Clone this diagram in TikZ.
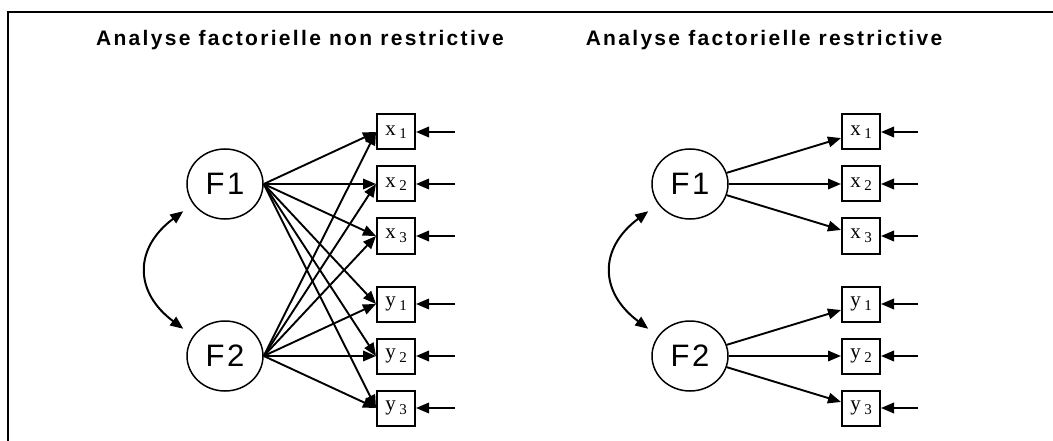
\documentclass[tikz,border=0pt]{standalone}
\usepackage{fontspec}
\setmainfont{Liberation Serif}
\newfontfamily\titlefont[LetterSpace=11]{Liberation Sans}
\newfontfamily\facfont[LetterSpace=8]{Liberation Sans}
\usetikzlibrary{arrows.meta,shapes.geometric}
\newcommand{\varlab}[2]{#1\,\raisebox{-3.5pt}{\fontsize{15}{15}\selectfont #2}}

\begin{document}
\begin{tikzpicture}[x=1pt,y=-1pt,
	tip/.style={-{Triangle[length=13pt,width=10.5pt]}},
	link/.style={tip,line width=1.9pt},
	dbl/.style={{Triangle[length=13pt,width=10.5pt]}-{Triangle[length=13pt,width=10.5pt]},line width=2pt,shorten <=12pt,shorten >=12pt},
	factor/.style={ellipse,draw,line width=1.5pt,minimum width=76pt,minimum height=70pt,inner sep=0pt,font=\facfont\fontsize{31}{31}\selectfont},
	obs/.style={rectangle,draw,line width=2pt,minimum width=38pt,minimum height=35pt,inner sep=0pt,font=\fontsize{21}{21}\selectfont},
	title/.style={anchor=base,font=\titlefont\bfseries\fontsize{21}{21}\selectfont}]
	\useasboundingbox (0,0) rectangle (1053,441);
	\draw[line width=2.2pt] (8,441) -- (8,12) -- (1053,12);
	\node[title] (t1) at (300,46) {Analyse factorielle non restrictive};
	\node[title] (t2) at (764,46) {Analyse factorielle restrictive};
	% non restrictive: every factor loads on every variable
	\node[factor] (a1) at (225,184) {F1};
	\node[factor] (a2) at (225,356) {F2};
	\foreach \v/\s/\y in {x/1/132,x/2/184,x/3/236,y/1/304,y/2/356,y/3/408} {
		\node[obs] (L\v\s) at (396,\y) {\varlab{\v}{\s}};
		\coordinate (Le\v\s) at (455,\y);
		\draw[link] (Le\v\s) -- (L\v\s);
		\draw[link] (a1.east) -- (L\v\s.west);
		\draw[link] (a2.east) -- (L\v\s.west);
	}
	\draw[dbl] (a1.212) .. controls +(-59,44) and +(-59,-44) .. (a2.148);
	% restrictive
	\node[factor] (b1) at (690,184) {F1};
	\node[factor] (b2) at (690,356) {F2};
	\foreach \v/\s/\y/\f in {x/1/132/b1,x/2/184/b1,x/3/236/b1,y/1/304/b2,y/2/356/b2,y/3/408/b2} {
		\node[obs] (R\v\s) at (861,\y) {\varlab{\v}{\s}};
		\coordinate (Re\v\s) at (918,\y);
		\draw[link] (Re\v\s) -- (R\v\s);
		\draw[link] (\f) -- (R\v\s);
	}
	\draw[dbl] (b1.212) .. controls +(-59,44) and +(-59,-44) .. (b2.148);
\end{tikzpicture}
\end{document}
